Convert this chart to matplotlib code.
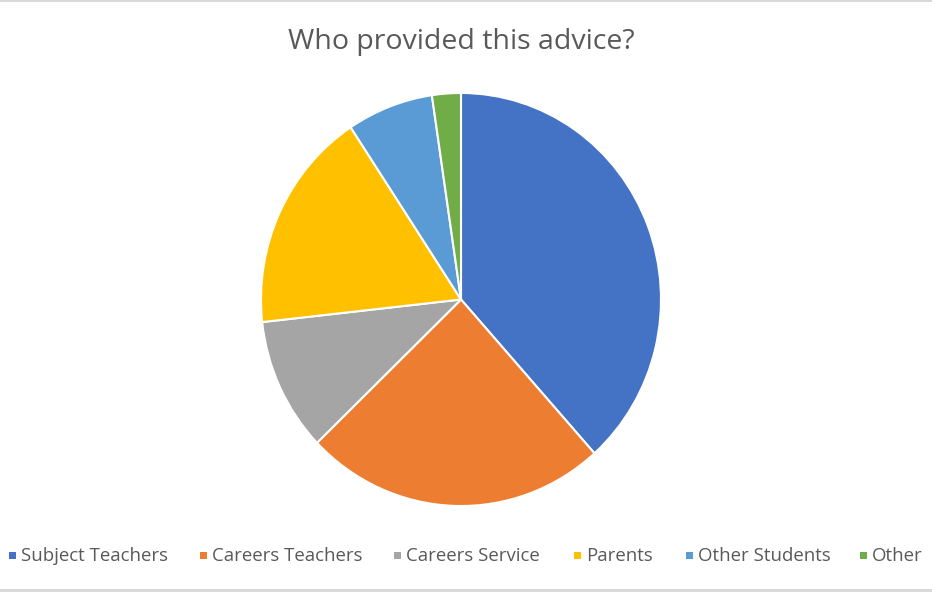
import matplotlib.pyplot as plt
from matplotlib.patches import Rectangle

# Данные диаграммы
labels = ["Subject Teachers", "Careers Teachers", "Careers Service",
          "Parents", "Other Students", "Other"]
counts = [33, 21, 9, 15, 6, 2]
colors = ["#4472C4", "#ED7D31", "#A5A5A5", "#FFC000", "#5B9BD5", "#70AD47"]

W, H = 932, 592
fig = plt.figure(figsize=(W / 100, H / 100), dpi=100)
fig.patch.set_facecolor("white")

# Круг занимает 400x413 пикселей, центр около (461, 300)
ax = fig.add_axes([261 / W, (H - 506) / H, 400 / W, 413 / H])
ax.pie(counts, colors=colors, startangle=90, counterclock=False,
       wedgeprops={"edgecolor": "white", "linewidth": 1.5})
ax.set_aspect("auto")
ax.set_xlim(-1, 1)
ax.set_ylim(-1, 1)
ax.axis("off")

fig.text(461 / W, 1 - 42 / H, "Who provided this advice?", ha="center", va="center",
         fontsize=20.5, color="#595959", family="Open Sans")

# Легенда, расставленная вручную
legend_x = [9, 200, 394, 574, 686, 860]
for x, label, color in zip(legend_x, labels, colors):
    fig.patches.append(Rectangle((x / W, 1 - 559 / H), 7 / W, 7 / H,
                                 transform=fig.transFigure, facecolor=color,
                                 edgecolor="none"))
    fig.text((x + 12) / W, 1 - 556 / H, label, ha="left", va="center",
             fontsize=13.4, color="#595959", family="Open Sans")

# Серые линии рамки сверху и снизу
fig.patches.append(Rectangle((0, 1 - 2 / H), 1, 2 / H, transform=fig.transFigure,
                             facecolor="#D9D9D9", edgecolor="none"))
fig.patches.append(Rectangle((0, 0), 1, 3 / H, transform=fig.transFigure,
                             facecolor="#D9D9D9", edgecolor="none"))

fig.savefig("out.png", dpi=100)
